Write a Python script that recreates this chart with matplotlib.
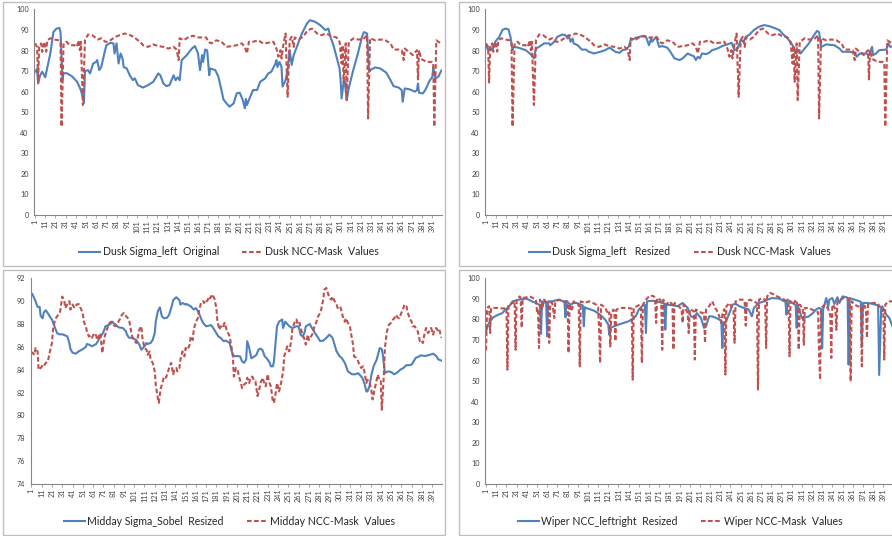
'''
四个实验结果折线图（Excel风格）拼成一张图
'''

import matplotlib
matplotlib.use('Agg')
import matplotlib.pyplot as plt
from matplotlib.patches import Rectangle

plt.rcParams['font.family'] = ['Lato', 'DejaVu Sans']

BLUE = '#4F81BD'
RED = '#C0504D'

# ---------------- 数据（从图上读取的折线顶点：序号, 数值） ----------------
# 图1 Dusk Sigma_left Original
dusk_orig_x = [1, 3, 4, 6, 8, 11, 16, 19, 22, 25, 26, 28, 29, 32, 37, 42, 45, 47, 49, 50,
               53, 55, 58, 61, 62, 64, 66, 69, 71, 75, 78, 79, 81, 83, 85, 87, 88, 91, 94, 97,
               99, 102, 107, 112, 117, 122, 124, 127, 130, 133, 137, 139, 141, 143, 145, 150, 155, 158, 161, 163,
               165, 166, 168, 170, 172, 173, 178, 181, 184, 186, 189, 192, 196, 199, 202, 205, 207, 208, 209, 211,
               215, 219, 222, 227, 230, 233, 237, 238, 239, 241, 243, 244, 247, 249, 251, 253, 255, 258, 263, 268,
               271, 276, 281, 286, 289, 291, 294, 297, 300, 301, 302, 304, 305, 307, 309, 313, 318, 322, 324, 327,
               328, 329, 331, 335, 340, 346, 350, 353, 358, 361, 362, 364, 369, 374, 376, 377, 378, 382, 385, 388,
               390, 391, 392, 394, 397, 400]
dusk_orig_y = [69.7, 71, 64, 68, 69.7, 67, 78.6, 89, 90.7, 91, 89, 66, 69, 69, 67.6, 65, 62, 59, 54.5, 70,
               70.5, 68.9, 73.7, 74.5, 75.4, 70.5, 72, 78.6, 82.6, 83.8, 83.5, 78.6, 83.5, 73.7, 78.6, 76, 72, 71.3, 68, 65.6,
               66.5, 63.2, 62, 63.2, 64.8, 68.9, 68, 64, 62.7, 63.2, 68, 65.6, 67, 65.6, 75.4, 77.8, 81, 82.2, 78.6, 70.5,
               77.8, 74.5, 80.5, 80.2, 68, 71.3, 70.5, 67.3, 60.8, 56.2, 54.3, 52.7, 54.3, 59.2, 59.5, 55.9, 51.9, 56.5, 53.5, 56,
               60.8, 60.8, 64.8, 66.5, 68.9, 69.7, 73.7, 75.4, 72, 74.5, 72, 62.5, 65.6, 70.5, 80.2, 73, 77.8, 81.8, 88.3, 93.2,
               94.8, 94, 92.4, 90, 90.7, 86.7, 82.6, 77, 71.3, 65.6, 56.7, 64.8, 65.5, 55.9, 61.6, 69.7, 78.6, 86.7, 89, 88.3,
               78.6, 69.7, 70.8, 71.8, 71.3, 69.2, 65.6, 62.7, 62, 60.8, 55.1, 61.6, 61.1, 60, 60.8, 64, 59.5, 59.2, 61.6, 65,
               66.5, 67, 72, 66.5, 67.3, 70.3]

# 图1、图2 Dusk NCC-Mask Values
dusk_ncc_x = [1, 3, 4, 5, 7, 8, 10, 12, 13, 16, 19, 24, 26, 27, 29, 32, 35, 40, 42, 44,
              45, 46, 48, 50, 53, 57, 60, 63, 66, 70, 73, 76, 80, 84, 89, 93, 98, 101, 104, 107,
              112, 117, 122, 127, 132, 137, 140, 142, 143, 147, 152, 156, 161, 166, 169, 171, 174, 179, 184, 189,
              194, 199, 204, 207, 209, 211, 215, 220, 225, 230, 235, 238, 240, 242, 243, 245, 247, 249, 251, 253,
              255, 256, 260, 264, 269, 273, 278, 282, 287, 292, 297, 300, 302, 303, 304, 306, 307, 309, 314, 318,
              323, 327, 328, 330, 335, 340, 345, 350, 353, 358, 361, 363, 364, 368, 372, 376, 377, 378, 380, 382,
              386, 389, 391, 392, 393, 395, 397, 400]
dusk_ncc_y = [83.5, 81.8, 64.5, 81.8, 83.5, 79.4, 84.3, 79.5, 85, 86, 85.5, 85, 84.3, 43, 83.5, 84.3, 82.6, 82.6, 81.8, 85,
              80.2, 84.3, 53.5, 85, 87.8, 87.5, 86.4, 85.4, 86, 84.3, 84.3, 85.4, 86.7, 87.5, 88.3, 87.8, 86.7, 85.4, 84.3, 82.6,
              81.8, 83, 82.2, 81.8, 81, 81.8, 80.5, 75.4, 86, 85, 86.7, 87.2, 86.4, 86.4, 86.4, 84.3, 83.5, 85, 84.3, 81.8,
              82.2, 82.6, 83.5, 81.8, 78.6, 84.3, 84.3, 85, 83.5, 83.8, 84.3, 81, 77, 80.2, 76.2, 83.5, 88.3, 57.5, 85, 86.7,
              81.8, 86.4, 85.4, 86.7, 90, 90.7, 88.3, 87.5, 88.3, 87, 86.4, 84.3, 73.7, 82.6, 64.8, 83.5, 55.9, 84.3, 86, 85.4,
              85.4, 87.5, 47, 86, 85, 85.4, 85, 83.5, 80.5, 80.5, 80.2, 75.4, 81, 79.4, 77.8, 80.2, 66, 80.2, 76, 75.4,
              74.5, 74.5, 74.5, 74, 43, 85, 84.3, 83.5]

# 图2 Dusk Sigma_left Resized
dusk_resized_x = [1, 3, 5, 7, 10, 14, 17, 20, 23, 25, 27, 28, 33, 40, 44, 48, 50, 53, 58, 63,
                  64, 68, 71, 76, 79, 81, 82, 84, 86, 87, 91, 95, 99, 102, 107, 113, 118, 122, 125, 128,
                  132, 135, 138, 141, 143, 148, 154, 158, 161, 163, 164, 168, 171, 174, 179, 182, 186, 191, 194, 199,
                  202, 205, 207, 209, 211, 213, 217, 220, 223, 228, 233, 238, 242, 245, 248, 251, 254, 256, 259, 264,
                  269, 274, 279, 284, 289, 292, 297, 302, 304, 305, 308, 310, 313, 318, 323, 326, 328, 330, 335, 343,
                  348, 351, 358, 363, 365, 368, 374, 377, 380, 381, 384, 387, 394, 396, 398, 400]
dusk_resized_y = [82.6, 80.2, 81.8, 80.2, 84.3, 86.7, 90, 90.7, 90.3, 86.7, 80.2, 81.8, 81.4, 80.2, 78.6, 76.2, 81, 81.8, 83.5, 83.5,
                  82.6, 84.3, 86.7, 87.8, 87.5, 85.9, 87.5, 84.3, 85.9, 83.5, 82.6, 80.5, 80.5, 79.4, 78.6, 79.4, 80.2, 81.4, 80.5, 79.4,
                  78.9, 80.2, 80.5, 81.8, 85, 86.2, 87, 86.7, 82.6, 85.9, 84.3, 86.7, 81.8, 82.2, 81.4, 79.4, 76.2, 75.4, 76.2, 78.6,
                  77.8, 77.3, 75.4, 77, 76.2, 78.6, 78.3, 78.9, 80.2, 81, 82.2, 83, 83.8, 80.2, 81, 85, 84.3, 86.7, 87.5, 90,
                  91.6, 92.4, 91.9, 91, 90, 88.3, 86, 82.6, 79.4, 78.6, 80.2, 78.6, 80.5, 83.5, 87.5, 89.6, 89, 81.8, 83, 82.6,
                  81, 79.4, 79.4, 78.9, 77, 78.6, 78.6, 77.8, 81.8, 77.8, 78.6, 80.2, 80.5, 83.5, 81.8, 82]

# 图3 Midday Sigma_Sobel Resized
midday_sobel_x = [1, 2, 5, 7, 9, 10, 12, 13, 15, 18, 20, 21, 23, 26, 28, 31, 34, 36, 38, 39,
                  41, 44, 47, 51, 54, 55, 57, 60, 64, 67, 68, 70, 72, 73, 77, 80, 81, 83, 86, 90,
                  93, 94, 96, 99, 103, 106, 108, 111, 113, 114, 117, 119, 121, 122, 124, 126, 128, 130, 133, 135,
                  138, 139, 142, 145, 146, 148, 151, 152, 156, 159, 161, 164, 166, 168, 171, 176, 179, 181, 183, 185,
                  188, 190, 194, 195, 197, 199, 201, 204, 206, 208, 210, 211, 213, 215, 217, 220, 222, 224, 226, 228,
                  230, 233, 234, 236, 237, 240, 242, 245, 246, 248, 250, 252, 255, 259, 261, 263, 265, 267, 268, 272,
                  273, 277, 280, 282, 285, 288, 291, 294, 296, 298, 301, 303, 306, 309, 313, 316, 319, 323, 325, 327,
                  328, 330, 332, 334, 337, 340, 342, 343, 345, 348, 351, 354, 357, 360, 363, 366, 369, 371, 373, 375,
                  379, 380, 384, 387, 392, 395, 397, 400]
midday_sobel_y = [90.7, 90.6, 90.0, 89.5, 89.5, 88.7, 88.5, 89.0, 89.2, 88.8, 88.5, 88.4, 87.9, 87.2, 87.1, 87.1, 87.0, 86.9, 86.3, 85.8,
                  85.5, 85.4, 85.6, 85.8, 86.0, 86.25, 86.2, 86.05, 86.25, 86.7, 86.9, 87.1, 87.5, 87.8, 87.95, 88.2, 88.05, 87.95, 87.7, 87.65,
                  87.36, 87.07, 86.8, 86.78, 86.6, 86.2, 85.75, 86.05, 86.34, 86.25, 86.34, 86.6, 87.2, 88.2, 89.1, 89.46, 88.67, 88.5, 88.55, 88.8,
                  89.7, 90.1, 90.34, 90.1, 89.7, 89.84, 89.7, 89.75, 89.55, 89.26, 89.4, 88.97, 88.5, 88.1, 87.8, 87.9, 87.5, 87.2, 86.9, 86.8,
                  86.5, 86.55, 86.34, 85.9, 85.3, 85.17, 85.2, 85.17, 84.74, 84.6, 84.9, 86.5, 85.9, 85.0, 85.1, 85.3, 85.76, 85.85, 85.7, 85.17,
                  85.0, 84.6, 84.3, 84.3, 84.7, 87.8, 88.2, 88.4, 87.65, 88.2, 88.0, 87.8, 87.65, 87.8, 87.8, 87.07, 86.9, 87.3, 87.8, 88.0,
                  87.8, 87.2, 86.8, 86.5, 86.55, 86.78, 87.07, 86.8, 86.2, 85.6, 85.17, 85.03, 84.6, 83.86, 83.6, 83.6, 83.7, 83.3, 82.84, 82.1,
                  82.1, 82.55, 83.6, 84.3, 84.88, 85.9, 85.8, 85.3, 83.7, 83.86, 83.8, 83.6, 83.75, 84.0, 84.15, 84.4, 84.4, 84.45, 84.74, 85.03,
                  85.2, 85.26, 85.2, 85.26, 85.4, 85.2, 84.9, 84.8]

# 图3 Midday NCC-Mask Values
midday_ncc_x = [1, 2, 4, 5, 7, 8, 10, 12, 13, 15, 17, 19, 21, 22, 24, 26, 28, 29, 31, 33,
                34, 36, 38, 39, 41, 43, 45, 47, 48, 51, 52, 54, 55, 57, 59, 60, 62, 64, 65, 67,
                68, 70, 72, 73, 75, 77, 79, 81, 83, 85, 87, 89, 91, 93, 96, 98, 99, 101, 103, 104,
                106, 108, 109, 111, 113, 114, 116, 117, 119, 121, 122, 124, 125, 126, 127, 129, 130, 132, 134, 135,
                137, 139, 140, 142, 143, 145, 146, 148, 150, 151, 153, 155, 156, 158, 159, 161, 163, 164, 166, 168,
                169, 171, 172, 174, 175, 177, 179, 181, 182, 184, 185, 187, 189, 191, 194, 195, 197, 198, 200, 202,
                203, 205, 206, 208, 210, 211, 213, 214, 216, 218, 219, 221, 223, 224, 226, 227, 229, 231, 232, 234,
                236, 237, 239, 240, 242, 244, 246, 247, 249, 250, 252, 254, 255, 257, 259, 260, 262, 263, 265, 267,
                268, 270, 271, 273, 275, 276, 278, 280, 281, 283, 285, 286, 288, 289, 291, 293, 294, 296, 298, 299,
                301, 302, 304, 306, 307, 309, 311, 312, 314, 315, 317, 319, 320, 322, 324, 325, 327, 328, 330, 332,
                333, 335, 337, 338, 340, 341, 342, 344, 345, 347, 349, 351, 353, 354, 356, 357, 359, 361, 363, 364,
                366, 367, 369, 371, 372, 374, 376, 377, 379, 380, 382, 383, 385, 387, 389, 390, 392, 393, 395, 397,
                398, 400]
midday_ncc_y = [85.4, 85.5, 85.3, 85.9, 85.6, 84.0, 84.15, 84.4, 84.3, 84.6, 84.7, 85.6, 86.34, 87.5, 88.4, 88.67, 88.9, 89.1, 90.4, 90.0,
                89.4, 89.75, 90.0, 89.26, 89.7, 89.4, 89.7, 89.75, 89.55, 88.97, 88.2, 87.8, 87.36, 86.9, 87.0, 86.8, 87.2, 87.0, 86.6, 87.0,
                87.2, 85.46, 86.8, 87.1, 87.65, 88.1, 88.2, 87.9, 87.8, 88.1, 88.4, 88.8, 88.97, 88.7, 88.4, 87.36, 86.9, 86.6, 86.34, 86.6,
                87.5, 87.8, 86.8, 85.9, 85.75, 85.3, 85.6, 84.9, 84.6, 83.86, 82.7, 81.5, 81.1, 81.8, 82.4, 83.0, 83.4, 83.3, 83.86, 84.15,
                84.6, 83.6, 84.0, 84.15, 83.86, 84.15, 84.88, 85.6, 85.17, 85.9, 85.75, 86.2, 86.9, 86.6, 87.5, 88.2, 88.5, 89.1, 89.84, 90.0,
                89.84, 90.13, 90.0, 90.4, 90.25, 90.6, 90.25, 89.4, 88.2, 87.5, 87.8, 87.65, 88.1, 87.5, 86.9, 86.34, 85.3, 83.4, 84.15, 83.86,
                83.4, 82.8, 82.4, 82.7, 82.84, 83.3, 82.84, 83.3, 83.4, 83.0, 83.0, 81.7, 82.4, 82.84, 83.3, 83.0, 82.55, 83.6, 83.0, 82.55,
                81.2, 81.1, 82.1, 82.84, 82.1, 82.84, 83.86, 85.17, 85.76, 86.05, 85.6, 86.63, 87.65, 88.1, 88.4, 87.95, 88.1, 87.65, 87.07, 86.6,
                86.2, 87.07, 86.6, 86.9, 87.2, 87.65, 88.1, 88.67, 88.8, 89.26, 90.13, 91.0, 91.15, 90.86, 90.28, 90.13, 90.4, 90.0, 89.7, 89.4,
                89.55, 89.4, 88.67, 88.2, 88.5, 88.1, 87.8, 87.2, 86.2, 85.17, 85.03, 84.74, 84.45, 84.15, 84.3, 83.86, 82.84, 83.1, 82.97, 82.1,
                81.4, 82.3, 83.1, 83.57, 83.0, 83.0, 80.5, 83.57, 85.9, 87.36, 87.95, 88.1, 88.4, 88.5, 88.8, 88.6, 88.5, 88.97, 89.4, 89.7,
                89.55, 89.1, 88.5, 88.2, 87.8, 87.8, 87.5, 87.36, 86.5, 86.6, 86.34, 86.9, 87.65, 87.2, 87.5, 87.65, 87.07, 87.5, 87.65, 87.36,
                87.5, 86.8]

# 图4 Wiper NCC_leftright Resized
wiper_lr_x = [1, 3, 5, 8, 13, 17, 20, 22, 25, 27, 30, 33, 40, 43, 46, 50, 53, 54, 55, 56,
              59, 60, 61, 62, 66, 72, 77, 78, 79, 80, 84, 87, 90, 94, 96, 97, 98, 99, 104, 108,
              113, 118, 121, 122, 123, 127, 131, 136, 141, 145, 148, 151, 156, 157, 158, 159, 164, 169, 174, 176,
              177, 178, 184, 189, 194, 199, 202, 205, 208, 212, 215, 217, 220, 223, 227, 230, 232, 233, 234, 236,
              240, 243, 246, 250, 254, 259, 262, 264, 269, 274, 277, 282, 289, 294, 295, 296, 297, 302, 305, 306,
              307, 309, 311, 313, 318, 322, 325, 328, 330, 331, 332, 335, 337, 338, 341, 343, 346, 348, 351, 355,
              356, 357, 358, 363, 368, 369, 370, 371, 376, 381, 385, 386, 387, 389, 390, 394, 397, 400]
wiper_lr_y = [74, 77.5, 79, 81, 82.3, 83.1, 84.8, 85.6, 87.2, 88.8, 89.1, 89.6, 90.1, 89.6, 88.8, 88, 87.2, 87.0, 73, 88.8,
              88.3, 88.0, 71.8, 88.8, 88.8, 89.6, 88.8, 88.0, 81, 88.8, 87.2, 88, 88, 87.2, 86.8, 76.7, 86.0, 85.6, 84.8, 84,
              82.3, 79.9, 77.5, 72.6, 75.9, 76.7, 77.5, 78.3, 79.1, 80.4, 81.5, 84.8, 87.2, 87.0, 73.4, 88.8, 89.1, 88.8, 88, 87.8,
              75, 87.2, 86.9, 86.4, 88, 85.6, 81.5, 81, 83.1, 80.7, 75.9, 76.7, 81.5, 81.5, 80.7, 79.9, 79.5, 66.1, 78.3, 78.3,
              83.1, 87.2, 87.5, 86.4, 85.6, 84.8, 81.5, 85.6, 88, 88.8, 89.6, 90.4, 90.1, 88.8, 88.5, 82.3, 89.6, 88, 87.0, 75.9,
              86.9, 84.0, 80.7, 80.7, 81.5, 83.1, 84.8, 85.6, 85.0, 66, 84.8, 90.4, 86.0, 89.6, 90.4, 87.5, 90.8, 88.0, 91.2, 90.8,
              90.4, 58, 90.4, 89.6, 88.8, 88.5, 67, 88, 88, 87.5, 86.9, 86.5, 53, 85.6, 86.4, 82.3, 80.7, 76.7]

# 图4 Wiper NCC-Mask Values
wiper_ncc_x = [1, 2, 4, 5, 6, 12, 18, 21, 22, 23, 27, 29, 30, 31, 34, 35, 36, 37, 41, 44,
               47, 50, 51, 52, 53, 54, 56, 58, 61, 62, 63, 64, 66, 68, 69, 73, 77, 81, 82, 83,
               85, 87, 90, 92, 93, 94, 98, 102, 106, 109, 111, 112, 113, 114, 118, 121, 122, 123, 124, 126,
               127, 128, 129, 133, 139, 144, 145, 146, 149, 152, 153, 154, 155, 158, 162, 166, 167, 168, 169, 172,
               173, 174, 175, 178, 181, 184, 185, 186, 190, 193, 194, 195, 198, 199, 200, 201, 205, 206, 207, 210,
               213, 215, 216, 217, 220, 223, 226, 229, 231, 232, 233, 235, 236, 237, 240, 243, 244, 245, 246, 250,
               254, 255, 256, 257, 260, 264, 267, 268, 269, 272, 275, 276, 277, 280, 284, 287, 290, 294, 297, 298,
               299, 300, 303, 305, 307, 308, 309, 311, 312, 313, 314, 318, 321, 325, 327, 328, 329, 330, 334, 337,
               339, 340, 341, 343, 344, 345, 346, 349, 352, 356, 358, 359, 360, 363, 366, 369, 370, 371, 373, 374,
               375, 376, 380, 385, 388, 390, 391, 392, 393, 396, 400]
wiper_ncc_y = [65, 85.6, 86.4, 73.4, 85.6, 85.6, 85.3, 85.6, 55.6, 87.2, 88.0, 88.8, 65.3, 89.6, 91.2, 90.4, 75.9, 90.4, 90.8, 91.2,
               90.4, 89.6, 84.0, 85.0, 66.1, 89.6, 84.8, 89.6, 88.0, 86.5, 68.6, 88.0, 88.0, 80.7, 88.8, 89.6, 88.8, 88.8, 63.7, 87.5,
               84.0, 88.8, 87.2, 87.5, 57.2, 88.8, 88.0, 88.8, 88.0, 87.2, 86.0, 75.0, 58.8, 87.2, 85.6, 82.5, 83.5, 66.9, 83.1, 84.8,
               84.0, 69.4, 84.8, 85.6, 85.6, 85.3, 50.7, 85.6, 86.4, 87.2, 86.0, 58.8, 87.2, 89.6, 91.7, 91.2, 90.0, 78.3, 90.4, 89.6,
               88.0, 65.3, 89.6, 87.2, 88.8, 87.2, 65.3, 88.0, 86.4, 85.0, 78.3, 87.2, 84.0, 83.0, 73.4, 85.0, 84.0, 60.5, 84.8, 84.0,
               83.1, 83.0, 68.6, 84.8, 86.4, 88.8, 85.6, 83.1, 80.0, 78.3, 82.3, 85.0, 53.2, 86.4, 88.0, 85.0, 84.0, 68.6, 88.8, 89.6,
               89.6, 88.0, 77.0, 88.8, 89.6, 88.8, 88.0, 45.9, 89.6, 90.4, 89.6, 66.1, 91.2, 92.9, 92.1, 91.2, 90.4, 89.6, 88.8, 88.0,
               62.1, 88.8, 87.2, 89.6, 87.0, 65.3, 87.2, 86.0, 85.6, 67.7, 85.6, 85.6, 84.8, 84.0, 83.5, 62.9, 50.7, 85.6, 87.2, 85.0,
               82.0, 61.3, 87.2, 86.0, 85.0, 75.0, 88.8, 89.6, 90.4, 90.4, 89.0, 49.9, 88.8, 87.2, 86.4, 86.0, 57.2, 87.2, 86.4, 84.0,
               71.0, 87.2, 88.0, 88.0, 86.0, 84.0, 84.8, 60.5, 87.2, 88.8, 88.8]

# 横轴刻度标签 1, 11, ..., 391
x_ticks = list(range(1, 400, 10))


def main():
    fig = plt.figure(figsize=(8.92, 5.36), dpi=100)
    fig.patch.set_facecolor('white')

    # 四个图框（Excel图表外框）
    for (x0, y0, w, h) in [(0.003, 0.5037, 0.4959, 0.4931), (0.5142, 0.5037, 0.52, 0.4931),
                           (0.003, 0.0024, 0.4959, 0.4938), (0.5142, 0.0024, 0.52, 0.4938)]:
        fig.add_artist(Rectangle((x0, y0), w, h, transform=fig.transFigure,
                                 fill=False, edgecolor='#BFBFBF', linewidth=1.0))

    draw_panel(fig, [0.0385, 0.5989, 0.4567, 0.3834],
               dusk_orig_x, dusk_orig_y, dusk_ncc_x, dusk_ncc_y,
               'Dusk Sigma_left  Original', 'Dusk NCC-Mask  Values',
               (0, 100), range(0, 101, 10), (0.257, 0.530))
    draw_panel(fig, [0.5441, 0.5989, 0.4567, 0.3834],
               dusk_resized_x, dusk_resized_y, dusk_ncc_x, dusk_ncc_y,
               'Dusk Sigma_left   Resized', 'Dusk NCC-Mask  Values',
               (0, 100), range(0, 101, 10), (0.762, 0.530))
    draw_panel(fig, [0.0344, 0.0970, 0.4608, 0.3838],
               midday_sobel_x, midday_sobel_y, midday_ncc_x, midday_ncc_y,
               'Midday Sigma_Sobel  Resized', 'Midday NCC-Mask  Values',
               (74, 92), range(74, 93, 2), (0.257, 0.0274))
    draw_panel(fig, [0.5441, 0.0970, 0.4567, 0.3838],
               wiper_lr_x, wiper_lr_y, wiper_ncc_x, wiper_ncc_y,
               'Wiper NCC_leftright  Resized', 'Wiper NCC-Mask  Values',
               (0, 100), range(0, 101, 10), (0.763, 0.0274))

    fig.savefig('out.png', dpi=100)


def draw_panel(fig, rect, x1, y1, x2, y2, label1, label2, ylim, yticks, legend_pos):
    '''画一个子图：蓝色实线 + 红色虚线'''
    ax = fig.add_axes(rect)
    l1, = ax.plot(x1, y1, color=BLUE, linewidth=1.5, label=label1)
    l2, = ax.plot(x2, y2, color=RED, linewidth=1.5, linestyle=(0, (2.2, 1.2)), label=label2)

    ax.set_xlim(0.3, 400.3)
    ax.set_ylim(*ylim)
    ax.set_yticks(list(yticks))
    ax.set_xticks(x_ticks)
    ax.set_xticklabels([str(t) for t in x_ticks], rotation=90)

    for side in ['top', 'right']:
        ax.spines[side].set_visible(False)
    for side in ['left', 'bottom']:
        ax.spines[side].set_color('#868686')
        ax.spines[side].set_linewidth(0.8)
    ax.tick_params(axis='y', length=0, labelsize=5.2, pad=4, labelcolor='#404040')
    ax.tick_params(axis='x', length=2, width=0.5, color='#868686', labelsize=5.2, pad=1.5,
                   labelcolor='#404040')

    fig.legend(handles=[l1, l2], loc='center', bbox_to_anchor=legend_pos, ncol=2,
               frameon=False, fontsize=7.6, handlelength=2.0, handletextpad=0.2,
               columnspacing=2.2, labelcolor='#262626')


if __name__ == '__main__':
    main()
